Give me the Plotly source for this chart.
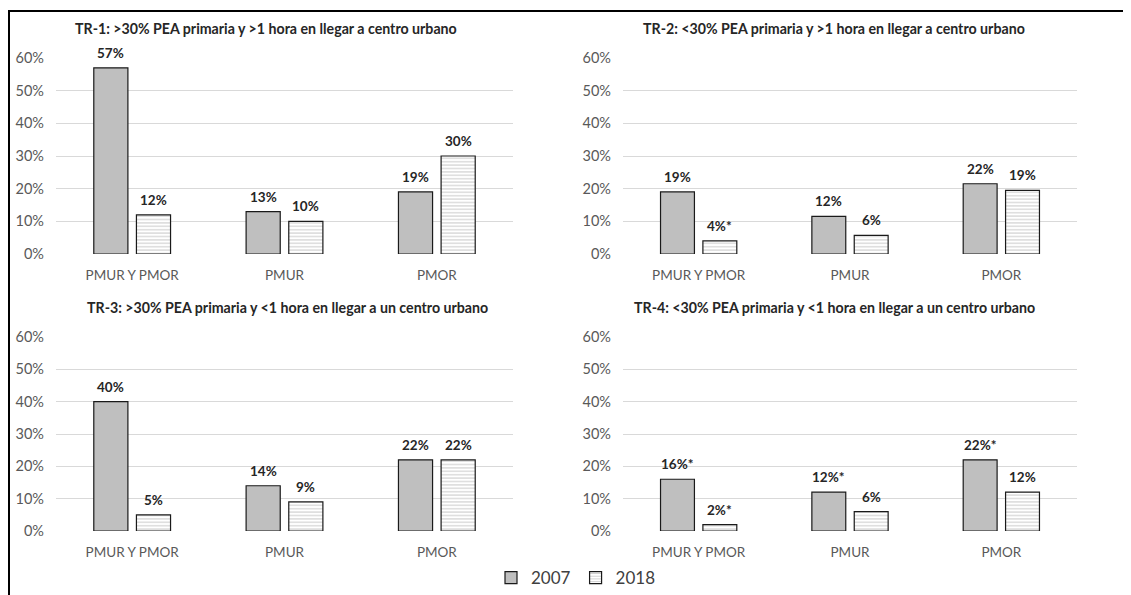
import plotly.graph_objects as go

# page body has an 8px margin: figure is sized to fit the window after it
OFF = 8
W, H = 1131 - OFF, 595 - OFF

categories = ["PMUR Y PMOR", "PMUR", "PMOR"]
years = ["2007", "2018"]

titles = [
    "TR-1: >30% PEA primaria y >1 hora en llegar a centro urbano",
    "TR-2: <30% PEA primaria y >1 hora en llegar a centro urbano",
    "TR-3: >30% PEA primaria y <1 hora en llegar a un centro urbano",
    "TR-4: <30% PEA primaria y <1 hora en llegar a un centro urbano",
]

vals_2007 = [
    [0.57, 0.13, 0.19],
    [0.19, 0.115, 0.215],
    [0.40, 0.14, 0.22],
    [0.16, 0.12, 0.22],
]
vals_2018 = [
    [0.12, 0.10, 0.30],
    [0.04, 0.057, 0.195],
    [0.05, 0.09, 0.22],
    [0.02, 0.06, 0.12],
]
labels_2007 = [
    ["57%", "13%", "19%"],
    ["19%", "12%", "22%"],
    ["40%", "14%", "22%"],
    ["16%*", "12%*", "22%*"],
]
labels_2018 = [
    ["12%", "10%", "30%"],
    ["4%*", "6%", "19%"],
    ["5%", "9%", "22%"],
    ["2%*", "6%", "12%"],
]

FONT = "Lato"
BARGAP = 0.44
GROUPGAP = 0.2


def fx(x):
    return (x - OFF) / W


def fy(y):
    return 1 - (y - OFF) / H


# panel geometry in screen pixels: (x0, x1, ytop(60%), ybottom(0%), title_x, title_y)
panels = [
    (56, 513, 58, 254, 266, 28),
    (623, 1077, 58, 254, 834, 28),
    (56, 513, 337, 531, 287, 307),
    (623, 1077, 337, 531, 834, 307),
]

fig = go.Figure()
annotations = []
for i, (x0, x1, yt, yb, tx, ty) in enumerate(panels):
    n = "" if i == 0 else str(i + 1)
    xa, ya = "x" + n, "y" + n
    fig.add_trace(go.Bar(
        x=categories, y=vals_2007[i], name=years[0],
        marker=dict(color="#bfbfbf", line=dict(color="#1a1a1a", width=1.2)),
        xaxis=xa, yaxis=ya, showlegend=(i == 0), legendgroup="a",
    ))
    fig.add_trace(go.Bar(
        x=categories, y=vals_2018[i], name=years[1],
        marker=dict(color="white", line=dict(color="#1a1a1a", width=1.2),
                    pattern=dict(shape="-", size=3.4, solidity=0.28,
                                 fgcolor="#8c8c8c", bgcolor="white")),
        xaxis=xa, yaxis=ya, showlegend=(i == 0), legendgroup="b",
    ))
    fig.update_layout(**{
        "xaxis" + n: dict(domain=[fx(x0), fx(x1)], anchor=ya, showgrid=False,
                          automargin=False,
                          showline=False, ticks="", ticklabelstandoff=11,
                          tickfont=dict(family=FONT, size=13.5, color="#595959")),
        "yaxis" + n: dict(domain=[fy(yb), fy(yt)], anchor=xa,
                          automargin=False,
                          range=[0, 0.6], dtick=0.1, tickformat=".0%",
                          showgrid=True, gridcolor="#d9d9d9", gridwidth=1,
                          zeroline=False, showline=False, ticks="",
                          ticklabelstandoff=11,
                          tickfont=dict(family=FONT, size=14.5, color="#595959")),
    })
    annotations.append(dict(
        text="<b>" + titles[i] + "</b>", x=fx(tx), y=fy(ty),
        xref="paper", yref="paper", showarrow=False, xanchor="center",
        yanchor="middle", font=dict(family=FONT, size=14.2, color="#262626"),
    ))
    # value labels above the bars (offset from category centre by half a bar slot)
    cat_w = (x1 - x0) / len(categories)
    slot = (1 - BARGAP) * cat_w / 2
    for vals, labs, sgn in ((vals_2007[i], labels_2007[i], -1),
                            (vals_2018[i], labels_2018[i], 1)):
        for c, v, t in zip(categories, vals, labs):
            annotations.append(dict(
                text="<b>" + t + "</b>", x=c, y=v, xref=xa, yref=ya,
                showarrow=False, xanchor="center", yanchor="bottom",
                xshift=sgn * slot / 2, yshift=5,
                font=dict(family=FONT, size=13.5, color="#262626"),
            ))

fig.update_layout(
    width=W, height=H,
    margin=dict(l=0, r=0, t=0, b=0, autoexpand=False),
    paper_bgcolor="white", plot_bgcolor="white",
    barmode="group", bargap=BARGAP, bargroupgap=GROUPGAP,
    annotations=annotations,
    legend=dict(orientation="h", x=fx(576), y=fy(578), xanchor="center",
                yanchor="middle", font=dict(family=FONT, size=17, color="#404040"),
                itemwidth=30, traceorder="normal"),
    shapes=[
        dict(type="line", xref="paper", yref="paper", x0=fx(8), x1=1,
             y0=fy(11), y1=fy(11), line=dict(color="black", width=2)),
        dict(type="line", xref="paper", yref="paper", x0=fx(9), x1=fx(9),
             y0=fy(11), y1=0, line=dict(color="black", width=2)),
    ],
)

fig.write_html("out.html")
